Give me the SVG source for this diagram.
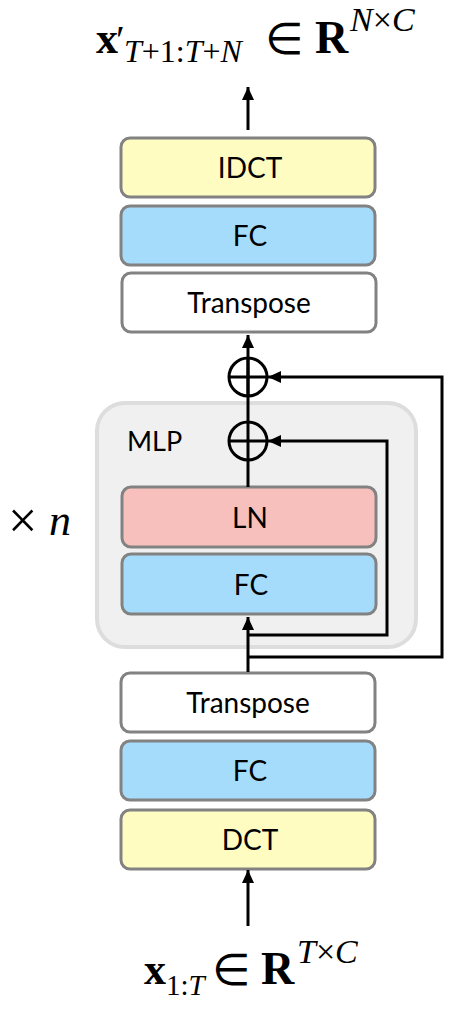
<svg xmlns="http://www.w3.org/2000/svg" width="464" height="1016" viewBox="0 0 464 1016">
<defs>
<marker id="ah" viewBox="0 0 13 12" refX="13" refY="6" markerWidth="13" markerHeight="12" markerUnits="userSpaceOnUse" orient="auto">
<path d="M0,0 L13,6 L0,12 z" fill="#000"/>
</marker>
<style>
.box{stroke:#828282;stroke-width:3}
.y{fill:#FEFCC1}
.b{fill:#A5DCFC}
.p{fill:#F7C0BD}
.w{fill:#FFFFFF}
.lbl{font-family:Lato,"Open Sans",sans-serif;font-size:28px;fill:#000;text-anchor:middle;dominant-baseline:central}
.ln{stroke:#000;stroke-width:3;fill:none}
.m{font-family:"Liberation Serif","Times New Roman",serif;fill:#000}
.el{font-family:"DejaVu Sans",sans-serif}
</style>
</defs>
<rect id="mlp" x="97" y="403" width="319" height="244" rx="28" fill="#F0F0F0" stroke="#DDDDDD" stroke-width="4"/>
<text x="127" y="451" font-family="Lato,sans-serif" font-size="27" fill="#000">MLP</text>

<g id="idct"><rect class="box y" x="121" y="138" width="254" height="59" rx="9"/><text class="lbl" x="250" y="167">IDCT</text></g>
<g id="fc3"><rect class="box b" x="121" y="206" width="254" height="59" rx="9"/><text class="lbl" x="250" y="235">FC</text></g>
<g id="transpose2"><rect class="box w" x="122" y="273" width="254" height="59" rx="9"/><text class="lbl" x="249" y="302">Transpose</text></g>
<g id="ln"><rect class="box p" x="122" y="487" width="254" height="60" rx="9"/><text class="lbl" x="250" y="517">LN</text></g>
<g id="fc2"><rect class="box b" x="122" y="554" width="254" height="60" rx="9"/><text class="lbl" x="251" y="584">FC</text></g>
<g id="transpose1"><rect class="box w" x="121" y="673" width="254" height="59" rx="9"/><text class="lbl" x="248" y="702">Transpose</text></g>
<g id="fc1"><rect class="box b" x="121" y="741" width="254" height="59" rx="9"/><text class="lbl" x="250" y="770">FC</text></g>
<g id="dct"><rect class="box y" x="121" y="810" width="254" height="59" rx="9"/><text class="lbl" x="250" y="839">DCT</text></g>

<g id="add2"><circle cx="248" cy="441" r="19" class="ln"/><path class="ln" d="M229,441 H267"/></g>
<g id="add1"><circle cx="248" cy="377" r="19" class="ln"/><path class="ln" d="M229,377 H267"/></g>

<g id="connectors">
<path class="ln" d="M248,926 V870" marker-end="url(#ah)"/>
<path class="ln" d="M248,672 V617" marker-end="url(#ah)"/>
<path class="ln" d="M248,635 H387 V441 H268" marker-end="url(#ah)"/>
<path class="ln" d="M248,657 H442 V377 H268" marker-end="url(#ah)"/>
<path class="ln" d="M248,487 V422"/>
<path class="ln" d="M248,422 V358"/>
<path class="ln" d="M248,396 V335" marker-end="url(#ah)"/>
<path class="ln" d="M248,130 V87" marker-end="url(#ah)"/>
</g>

<text class="m" x="8" y="538" font-size="52">×</text>
<text class="m" x="49" y="535" font-size="44" font-style="italic">n</text>

<text class="m" y="53" font-size="44"><tspan x="96" font-weight="bold">x</tspan><tspan x="116" font-size="40">′</tspan><tspan x="124" y="62" font-size="32" font-style="italic">T</tspan><tspan font-size="32" y="62">+1:</tspan><tspan font-size="32" y="62" font-style="italic">T</tspan><tspan font-size="32" y="62">+</tspan><tspan font-size="32" y="62" font-style="italic">N</tspan></text>
<text class="m el" x="265" y="54" font-size="44">∈</text>
<text class="m" y="53" font-size="46"><tspan x="315" font-weight="bold">R</tspan><tspan x="350" y="31" font-size="34" font-style="italic">N</tspan><tspan y="31" font-size="34">×</tspan><tspan y="31" font-size="34" font-style="italic">C</tspan></text>

<text class="m" y="984" font-size="44"><tspan x="144" font-weight="bold">x</tspan><tspan x="166" y="995" font-size="29">1:</tspan><tspan y="995" font-size="29" font-style="italic">T</tspan></text>
<text class="m el" x="212" y="985" font-size="44">∈</text>
<text class="m" y="984" font-size="46"><tspan x="261" font-weight="bold">R</tspan><tspan x="297" y="963" font-size="34" font-style="italic">T</tspan><tspan y="963" font-size="34">×</tspan><tspan y="963" font-size="34" font-style="italic">C</tspan></text>
</svg>
